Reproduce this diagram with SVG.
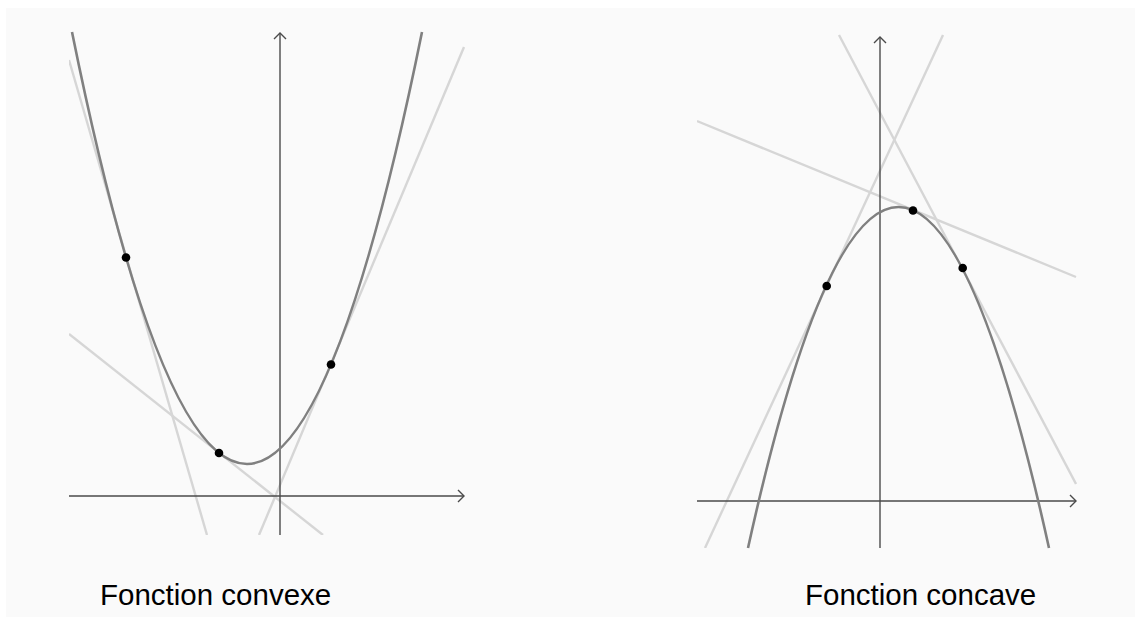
<svg xmlns="http://www.w3.org/2000/svg" width="1135" height="617" viewBox="0 0 1135 617">
  <style>
    .axis { stroke: #4a4a4a; stroke-width: 1.4; fill: none; }
    .curve { stroke: #808080; stroke-width: 2.6; fill: none; }
    .tangent { stroke: #d6d6d6; stroke-width: 2.4; fill: none; }
    .pt { fill: #000000; }
    .label { font-family: "Liberation Sans", Arial, sans-serif; font-size: 29.5px; fill: #000000; }
  </style>
  <defs>
    <marker id="arrow" viewBox="0 0 10 14" refX="9" refY="7" markerWidth="10" markerHeight="14" markerUnits="userSpaceOnUse" orient="auto">
      <path d="M 3 1 L 9 7 L 3 13" fill="none" stroke="#4a4a4a" stroke-width="1.4"/>
    </marker>
    <clipPath id="clipL"><rect x="69" y="30" width="396" height="505"/></clipPath>
    <clipPath id="clipR"><rect x="697" y="33" width="380" height="515"/></clipPath>
  </defs>
  <rect x="0" y="0" width="1135" height="617" fill="#ffffff"/>
  <rect x="6" y="8" width="1129" height="609" fill="#fafafa"/>

  <g id="convexe">
    <g clip-path="url(#clipL)">
      <line class="tangent" x1="69" y1="60" x2="207" y2="535"/>
      <line class="tangent" x1="69" y1="334" x2="323" y2="535"/>
      <line class="tangent" x1="259" y1="535" x2="464" y2="47"/>
    </g>
    <g id="axesL">
      <line class="axis" x1="69" y1="496" x2="464" y2="496" marker-end="url(#arrow)"/>
      <line class="axis" x1="280" y1="535" x2="280" y2="33" marker-end="url(#arrow)"/>
    </g>
    <path class="curve" d="M 72 32 Q 247 896 422 32"/>
    <circle class="pt" cx="126" cy="257.5" r="4.3"/>
    <circle class="pt" cx="219" cy="453" r="4.3"/>
    <circle class="pt" cx="331" cy="364.5" r="4.3"/>
    <text class="label" x="100" y="605">Fonction convexe</text>
  </g>

  <g id="concave">
    <g clip-path="url(#clipR)">
      <line class="tangent" x1="705" y1="548" x2="943" y2="35"/>
      <line class="tangent" x1="697" y1="121" x2="1076" y2="277"/>
      <line class="tangent" x1="839" y1="35" x2="1076" y2="484"/>
    </g>
    <g id="axesR">
      <line class="axis" x1="697" y1="501" x2="1076" y2="501" marker-end="url(#arrow)"/>
      <line class="axis" x1="880" y1="548" x2="880" y2="37" marker-end="url(#arrow)"/>
    </g>
    <path class="curve" d="M 748 548 Q 898.5 -134 1049 548"/>
    <circle class="pt" cx="826.7" cy="286" r="4.3"/>
    <circle class="pt" cx="913" cy="210.5" r="4.3"/>
    <circle class="pt" cx="962.7" cy="268" r="4.3"/>
    <text class="label" x="805" y="605">Fonction concave</text>
  </g>
</svg>
